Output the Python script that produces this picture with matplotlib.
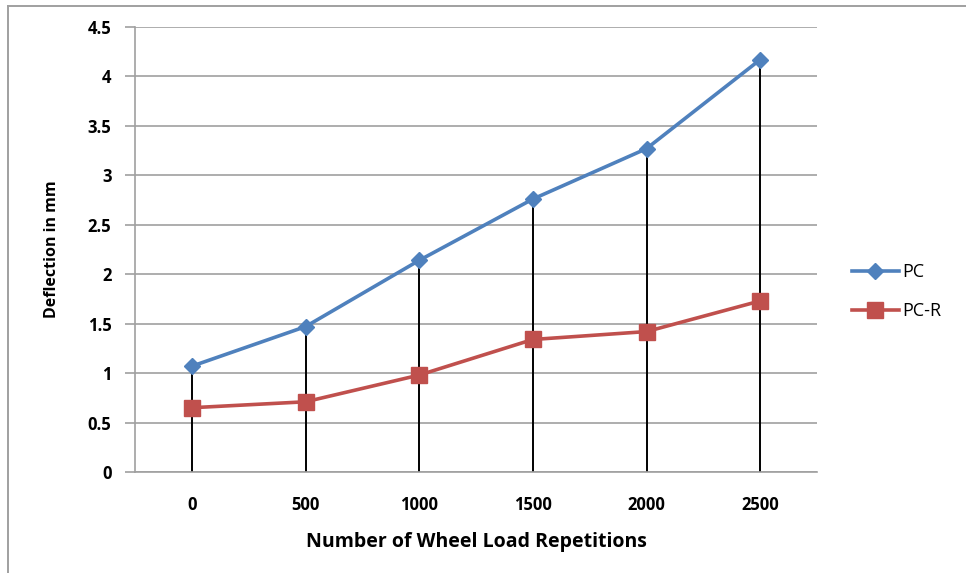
import matplotlib.pyplot as plt
from matplotlib.lines import Line2D

# wheel load repetitions and measured deflection (mm)
repetitions = ['0', '500', '1000', '1500', '2000', '2500']
pc = [1.07, 1.47, 2.14, 2.76, 3.27, 4.17]
pc_r = [0.65, 0.71, 0.98, 1.34, 1.42, 1.73]

plt.rcParams['font.family'] = ['Open Sans', 'DejaVu Sans']

fig = plt.figure(figsize=(9.66, 5.73), dpi=100)
ax = fig.add_axes([135 / 966, 101 / 573, 682 / 966, 445 / 573])

# chart frame: only the top and left edges show
frame_kw = dict(transform=fig.transFigure, color='#a0a0a0', linewidth=1.4)
fig.lines.append(Line2D([8 / 966, 1.0], [567 / 573, 567 / 573], **frame_kw))
fig.lines.append(Line2D([8 / 966, 8 / 966], [0.0, 567 / 573], **frame_kw))

x = list(range(len(repetitions)))

# drop lines from the PC points to the axis
ax.vlines(x, 0, pc, colors='black', linewidth=1.4, zorder=2)

ax.plot(x, pc, color='#4F81BD', linewidth=2.6, marker='D', markersize=8.5, label='PC', zorder=4)
ax.plot(x, pc_r, color='#C0504D', linewidth=2.6, marker='s', markersize=11.5, label='PC-R', zorder=3)

ax.set_xlim(-0.5, len(repetitions) - 0.5)
ax.set_ylim(0, 4.5)
ax.set_yticks([0, 0.5, 1, 1.5, 2, 2.5, 3, 3.5, 4, 4.5])
ax.set_yticklabels(['0', '0.5', '1', '1.5', '2', '2.5', '3', '3.5', '4', '4.5'])
ax.set_xticks(x)
ax.set_xticklabels(repetitions)

ax.grid(axis='y', color='#a0a0a0', linewidth=1.2)
ax.set_axisbelow(True)
for side in ['top', 'right']:
    ax.spines[side].set_visible(False)
for side in ['left', 'bottom']:
    ax.spines[side].set_color('#a0a0a0')
    ax.spines[side].set_linewidth(1.2)
ax.tick_params(axis='y', length=7, color='#a0a0a0', width=1.2, pad=10, labelsize=12)
ax.tick_params(axis='x', length=0, pad=17, labelsize=12)
for lbl in ax.get_xticklabels() + ax.get_yticklabels():
    lbl.set_fontweight('bold')

ax.set_xlabel('Number of Wheel Load Repetitions', fontsize=14, fontweight='bold', va='top')
ax.xaxis.set_label_coords(0.5, -0.135)
ax.set_ylabel('Deflection in mm', fontsize=11.5, fontweight='bold')
ax.yaxis.set_label_coords(-0.110, 0.5)

fig.legend(*ax.get_legend_handles_labels(), loc='center left',
           bbox_to_anchor=(852 / 966, 281.5 / 573), frameon=False, fontsize=13,
           handlelength=2.6, handletextpad=0.2, labelspacing=1.15,
           borderpad=0, borderaxespad=0)

fig.savefig('out.png', dpi=100)
